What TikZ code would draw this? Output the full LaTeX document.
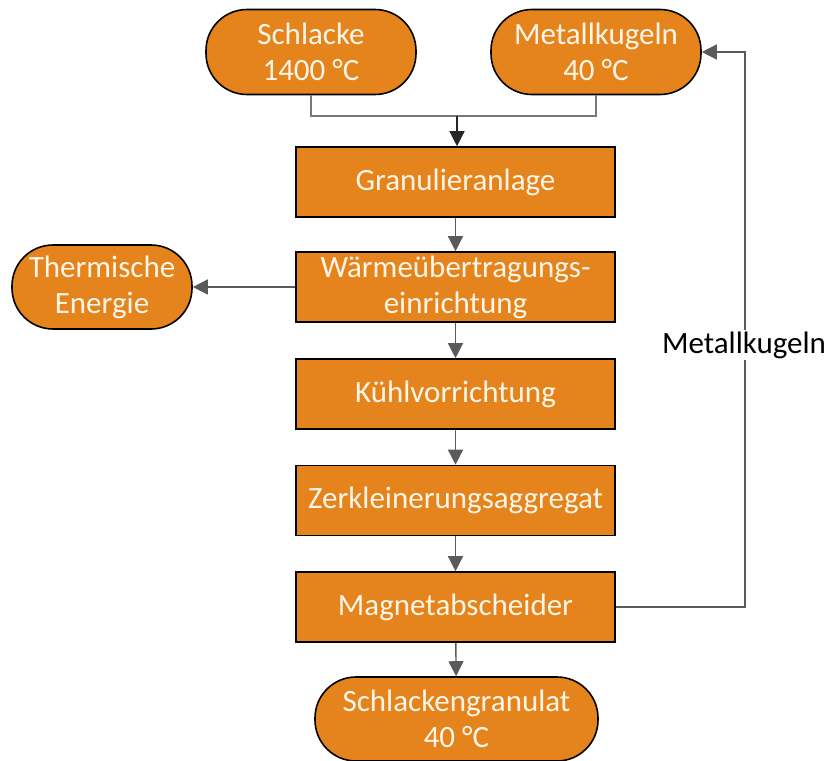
\documentclass[tikz,border=0pt]{standalone}
\usepackage{fontspec}
\setmainfont{Carlito}
\usetikzlibrary{arrows.meta}
\definecolor{org}{RGB}{229,131,28}
\definecolor{lgray}{RGB}{120,120,120}
\definecolor{dgray}{RGB}{90,90,90}
\definecolor{cream}{RGB}{255,246,232}
\begin{document}
\begin{tikzpicture}[x=1pt,y=-1pt,
  proc/.style={draw=black, line width=1.6pt, fill=org, text=cream, minimum width=319pt, minimum height=70pt, inner sep=0pt, font=\fontsize{31}{36}\selectfont, align=center},
  term/.style={proc, rounded corners=41pt},
  gline/.style={draw=lgray, line width=1.4pt},
  conn/.style={gline, -{Triangle[length=15pt,width=15pt]}, dgray}]
\useasboundingbox (0,0) rectangle (829,760);
\node[term, minimum width=210pt, minimum height=85pt] (s) at (311,52) {Schlacke\\1400 °C};
\node[term, minimum width=210pt, minimum height=85pt] (m) at (596,52) {Metallkugeln\\40 °C};
\node[proc] (g) at (455.5,182) {Granulieranlage};
\node[proc] (w) at (455.5,287) {Wärmeübertragungs-\\einrichtung};
\node[proc] (k) at (455.5,394) {Kühlvorrichtung};
\node[proc] (z) at (455.5,500.5) {Zerkleinerungsaggregat};
\node[proc] (ma) at (455.5,607) {Magnetabscheider};
\node[term, minimum width=283pt, minimum height=84pt] (sg) at (456.5,719) {Schlackengranulat\\40 °C};
\node[term, minimum width=180pt, minimum height=84pt] (t) at (102,287) {Thermische\\Energie};
\coordinate (j) at (457,116);
\coordinate (r) at (745,0);
\draw[gline] (s.south) |- (j);
\draw[gline] (m.south) |- (j);
\draw[conn, draw=black!85, fill=black!85] (j) -- (g.north -| j);
\draw[conn] (g) -- (w);
\draw[conn] (w) -- (k);
\draw[conn] (k) -- (z);
\draw[conn] (z) -- (ma);
\draw[conn] (ma) -- (sg);
\draw[conn] (w.west) -- (t.east);
\draw[conn] (ma.east) -- (ma.east -| r) -- (r |- m.east) -- (m.east);
\node[fill=white, inner sep=2pt, font=\fontsize{31}{36}\selectfont] (lbl) at (744,345) {Metallkugeln};
\end{tikzpicture}
\end{document}
